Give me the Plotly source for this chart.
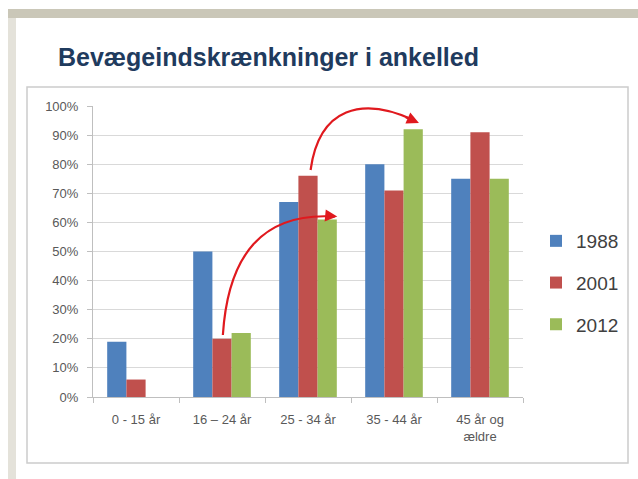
import plotly.graph_objects as go

# ---- data ----
categories = ["0 - 15 år", "16 – 24 år", "25 - 34 år", "35 - 44 år", "45 år og<br>ældre"]
years = ["1988", "2001", "2012"]
v1988 = [19, 50, 67, 80, 75]
v2001 = [6, 20, 76, 71, 91]
v2012 = [None, 22, 61, 92, 75]
colors = ["#4F81BD", "#C0504D", "#9BBB59"]
y_ticks = list(range(0, 101, 10))
y_labels = [f"{v}%" for v in y_ticks]

W, H = 638, 479
ML, MR, MT, MB = 93, 115, 106, 82
PW, PH = W - ML - MR, H - MT - MB


def px(x):  # pixel -> paper x
    return (x - ML) / PW


def py(y):  # pixel -> paper y
    return (H - MB - y) / PH


xs = list(range(len(categories)))
fig = go.Figure()
for name, vals, c in zip(years, [v1988, v2001, v2012], colors):
    fig.add_trace(go.Bar(x=xs, y=vals, name=name, marker_color=c,
                         marker_line_width=0, legendgroup=name))

# slide background decoration
shapes = [
    dict(type="rect", xref="paper", yref="paper", x0=px(8), x1=px(16), y0=py(479), y1=py(9),
         fillcolor="#E4E2DA", line_width=0, layer="below"),
    dict(type="rect", xref="paper", yref="paper", x0=px(8), x1=px(640), y0=py(18), y1=py(9),
         fillcolor="#CAC7B8", line_width=0, layer="below"),
    dict(type="path", xref="paper", yref="paper",
         path=(f"M{px(16)},{py(479)} L{px(16)},{py(44)} Q{px(16)},{py(18)} {px(42)},{py(18)} "
               f"L{px(640)},{py(18)} L{px(640)},{py(479)} Z"),
         fillcolor="#FFFFFF", line_width=0, layer="below"),
    dict(type="rect", xref="paper", yref="paper", x0=px(27), x1=px(628), y0=py(463), y1=py(87),
         fillcolor="rgba(0,0,0,0)", line=dict(color="#CCCCCC", width=1.5), layer="below"),
]

# curved red arrows (data coordinates: category index, percent)
arrow_color = "#E0191E"
a1 = [(1.01, 21.3), (1.07, 48.8), (1.47, 63.6), (2.31, 62.0)]
a2 = [(2.03, 78.0), (2.13, 99.5), (2.63, 103.5), (3.24, 95.0)]
for p in (a1, a2):
    shapes.append(dict(type="path", xref="x", yref="y",
                       path=f"M{p[0][0]},{p[0][1]} C{p[1][0]},{p[1][1]} {p[2][0]},{p[2][1]} {p[3][0]},{p[3][1]}",
                       line=dict(color=arrow_color, width=2.2), layer="above"))

annotations = [
    dict(x=2.34, y=62.0, ax=2.2, ay=62.4, xref="x", yref="y", axref="x", ayref="y",
         text="", showarrow=True, arrowhead=2, arrowsize=1.1, arrowwidth=2.2, arrowcolor=arrow_color),
    dict(x=3.29, y=94.2, ax=3.12, ay=96.4, xref="x", yref="y", axref="x", ayref="y",
         text="", showarrow=True, arrowhead=2, arrowsize=1.1, arrowwidth=2.2, arrowcolor=arrow_color),
]

fig.update_layout(
    width=W, height=H,
    margin=dict(l=ML, r=MR, t=MT, b=MB),
    paper_bgcolor="white", plot_bgcolor="white",
    barmode="group", bargap=0.33, bargroupgap=0,
    font=dict(family="Liberation Sans, Arial, sans-serif", color="#595959", size=13),
    title=dict(text="<b>Bevægeindskrænkninger i ankelled</b>", x=58 / W, xanchor="left",
               y=1 - 57 / H, yanchor="middle", xref="container", yref="container",
               font=dict(size=25, color="#1F3B5E", family="Liberation Sans, Arial, sans-serif")),
    xaxis=dict(range=[-0.5, 4.5], tickvals=xs, ticktext=categories, ticks="",
               showline=True, linecolor="#BFBFBF", linewidth=1, showgrid=False, zeroline=False,
               minor=dict(tick0=0.5, dtick=1, ticks="outside", ticklen=5, tickcolor="#BFBFBF", showgrid=False),
               tickfont=dict(size=13, color="#595959"), ticklabelstandoff=10, fixedrange=True),
    yaxis=dict(range=[0, 100], tickvals=y_ticks, ticktext=y_labels, ticks="outside", ticklen=5,
               tickcolor="#BFBFBF", showline=True, linecolor="#BFBFBF", linewidth=1,
               gridcolor="#D9D9D9", gridwidth=1, zeroline=False,
               tickfont=dict(size=13, color="#595959"), ticklabelstandoff=6),
    legend=dict(x=px(536), xanchor="left", y=py(222), yanchor="top",
                traceorder="grouped", tracegroupgap=14,
                font=dict(size=19, color="#404040"), bgcolor="rgba(0,0,0,0)"),
    shapes=shapes,
    annotations=annotations,
)

fig.write_html("out.html")
